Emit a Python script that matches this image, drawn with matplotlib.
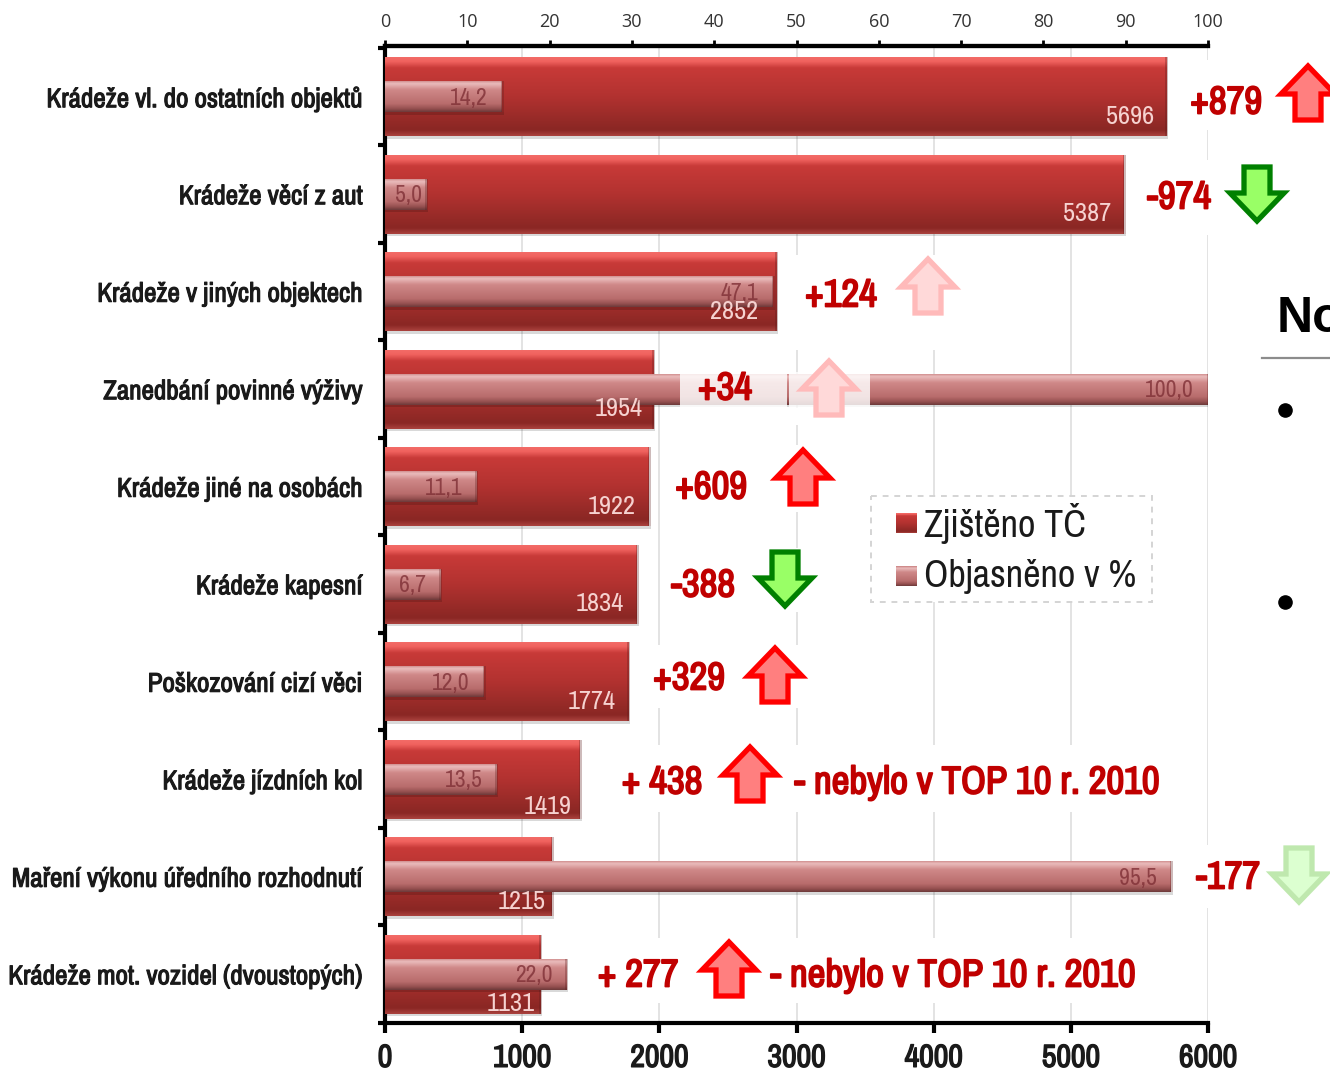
import numpy as np
import matplotlib
matplotlib.use("Agg")
import matplotlib.pyplot as plt
import matplotlib.patheffects as pe
from matplotlib.colors import LinearSegmentedColormap
from matplotlib.patches import Polygon, Rectangle

narrow = ["Archivo Narrow", "PT Sans Narrow", "Liberation Sans Narrow", "Liberation Sans", "DejaVu Sans"]
plt.rcParams["font.family"] = narrow

categories = [
    "Krádeže vl. do ostatních objektů",
    "Krádeže věcí z aut",
    "Krádeže v jiných objektech",
    "Zanedbání povinné výživy",
    "Krádeže jiné na osobách",
    "Krádeže kapesní",
    "Poškozování cizí věci",
    "Krádeže jízdních kol",
    "Maření výkonu úředního rozhodnutí",
    "Krádeže mot. vozidel (dvoustopých)",
]
zjisteno = [5696, 5387, 2852, 1954, 1922, 1834, 1774, 1419, 1215, 1131]
objasneno = [14.2, 5.0, 47.1, 100.0, 11.1, 6.7, 12.0, 13.5, 95.5, 22.0]
objasneno_labels = ["14,2", "5,0", "47,1", "100,0", "11,1", "6,7", "12,0", "13,5", "95,5", "22,0"]
bottom_ticks = [0, 1000, 2000, 3000, 4000, 5000, 6000]
top_ticks = [0, 10, 20, 30, 40, 50, 60, 70, 80, 90, 100]
series_names = ["Zjištěno TČ", "Objasněno v %"]

# change against last year: text, text x, text y, arrow x, arrow top y, kind
changes = [
    ("+879", 1226, 103, 1308, 66, "up"),
    ("-974", 1179, 198, 1257, 167, "down"),
    ("+124", 841, 296, 928, 259, "up_pale"),
    ("+34", 725, 389, 829, 361, "up_pale"),
    ("+609", 711, 488, 803, 450, "up"),
    ("-388", 703, 586, 785, 552, "down"),
    ("+329", 689, 679, 775, 648, "up"),
    ("+ 438", 662, 783, 750, 747, "up"),
    ("-177", 1228, 878, 1299, 848, "down_pale"),
    ("+ 277", 638, 976, 729, 942, "up"),
]
notes = [("- nebylo v TOP 10 r. 2010", 977, 783), ("- nebylo v TOP 10 r. 2010", 953, 976)]

arrow_colors = {
    "up": ("#ff0000", "#ff7f7f"),
    "down": ("#008000", "#99ff66"),
    "up_pale": ("#ffbaba", "#ffd9d9"),
    "down_pale": ("#bfe8ae", "#dcffd0"),
}
# white boxes the slide puts behind its labels (x0, y0, x1, y1, alpha)
boxes = [
    (1176, 60, 1330, 130, 1), (1138, 160, 1300, 235, 1),
    (795, 255, 965, 350, 1), (680, 372, 787, 408, .82), (789, 372, 870, 408, .82),
    (789, 408, 870, 425, 1), (665, 445, 840, 512, 1), (660, 548, 822, 612, 1),
    (645, 645, 812, 708, 1), (615, 745, 1165, 812, 1),
    (1190, 845, 1330, 908, 1), (590, 938, 1140, 1003, 1),
]
# hand nudges of the count labels, row: (dx, dy) in pixels
label_nudge = {2: (-6, 0), 3: (2, 0), 7: (5, 8), 8: (6, 5), 9: (7, 10)}

red_map = LinearSegmentedColormap.from_list("red", [
    (0, "#f26a66"), (.05, "#f0625e"), (.13, "#c83a38"), (.5, "#b23230"), (.93, "#8a2724"), (1, "#a8403c")])
pink_map = LinearSegmentedColormap.from_list("pink", [
    (0, "#c98080"), (.1, "#eabcbc"), (.3, "#cf8888"), (.75, "#b86c6c"), (.9, "#965050"), (1, "#6e3a3a")])
grad = np.linspace(0, 1, 64).reshape(-1, 1)


def bold(lw, color):
    # the narrow font has only one weight here, so thicken it
    return [pe.withStroke(linewidth=lw, foreground=color)]


def gradient_bars(ax, bars, cmap, z, px):
    for b in bars:
        x0, y0, w, h = b.get_x(), b.get_y(), b.get_width(), b.get_height()
        im = ax.imshow(grad, cmap=cmap, vmin=0, vmax=1, aspect="auto", zorder=z,
                       extent=(x0, x0 + w, y0 + h, y0), interpolation="bilinear")
        im.set_clip_path(b)
        # soft shadow under and right of the bar
        ax.add_patch(Rectangle((x0, y0 + h), w + 2 * px, .025, color="#000000", alpha=.15, lw=0, zorder=z - .1))
        ax.add_patch(Rectangle((x0 + w - px, y0), 3 * px, h, color="#5a1c1c", alpha=.3, lw=0, zorder=z + .1))


W, H = 1330, 1071
fig = plt.figure(figsize=(W / 100, H / 100), dpi=100, facecolor="white")
ax = fig.add_axes([385 / W, 1 - 1023 / H, 823 / W, 977 / H])
y = np.arange(len(categories))

red_bars = ax.barh(y, zjisteno, height=.81, color="#b83230", zorder=2)
gradient_bars(ax, red_bars, red_map, 3, 6000 / 823)
ax.set_xlim(0, 6000)
ax.set_ylim(9.5, -.52)
ax.set_xticks(bottom_ticks)
ax.set_xticklabels(bottom_ticks, fontsize=23, color="#1a1a1a", path_effects=bold(1.0, "#1a1a1a"))
ax.set_yticks(np.arange(-.5, 10), labels=[])
ax.set_yticks(y, labels=categories, minor=True, fontsize=19.5, color="#1a1a1a", path_effects=bold(.8, "#1a1a1a"))
ax.tick_params(axis="y", which="minor", length=0, pad=16)
ax.tick_params(axis="y", which="major", length=5, width=3, color="black")
ax.tick_params(axis="x", length=7, width=3, color="black", pad=8)
ax.grid(axis="x", color="#dedede", lw=1.2, zorder=0)
ax.set_axisbelow(True)
for side in ["top", "bottom", "left"]:
    ax.spines[side].set_linewidth(3)
ax.spines["right"].set_visible(False)

ax2 = ax.twiny()
pink_bars = ax2.barh(y, objasneno, height=.32, color="#d08a8a", zorder=2)
gradient_bars(ax2, pink_bars, pink_map, 3, 100 / 823)
ax2.set_xlim(0, 100)
ax2.set_ylim(9.5, -.52)
ax2.set_xticks(top_ticks)
ax2.set_xticklabels(top_ticks, fontsize=13, color="#333333", family=["Open Sans", "DejaVu Sans"])
ax2.tick_params(axis="x", length=4, width=2, color="black", pad=7)
for s in ax2.spines.values():
    s.set_visible(False)
ax2.spines["top"].set_visible(True)
ax2.spines["top"].set_linewidth(3)

for i, v in enumerate(objasneno):
    off = -3 if v < 6 else -10
    ax2.annotate(objasneno_labels[i], (v, i), xytext=(off, -1), textcoords="offset points",
                 ha="right", va="center", fontsize=17, color="#7f3036", alpha=.8, zorder=6)
for i, v in enumerate(zjisteno):
    dx, dy = label_nudge.get(i, (0, 0))
    ax2.annotate(str(v), (v * 100 / 6000, i), xytext=(-9 + dx * .72, -14 - dy * .72), textcoords="offset points",
                 ha="right", va="center", fontsize=19, color="#f6d2d0", zorder=7)

# slide shapes and labels, placed in picture pixels
over = fig.add_axes([0, 0, 1, 1], facecolor="none")
over.set_zorder(5)

for x0, y0, x1, y1, a in boxes:
    over.add_patch(Rectangle((x0, y0), x1 - x0, y1 - y0, color="white", alpha=a, lw=0, zorder=1))

for text, tx, ty, ax_x, ax_y, kind in changes:
    over.text(tx, ty, text, ha="center", va="center", fontsize=28, color="#c00000", zorder=4,
              path_effects=bold(1.3, "#c00000"))
    edge, fill = arrow_colors[kind]
    head, half, shaft = 28, 27, 13
    pts = [(0, 0), (half, head), (shaft, head), (shaft, 54), (-shaft, 54), (-shaft, head), (-half, head)]
    if kind.startswith("down"):
        pts = [(px, 54 - py) for px, py in pts]
    over.add_patch(Polygon([(ax_x + px, ax_y + py) for px, py in pts], closed=True,
                           facecolor=fill, edgecolor=edge, lw=3.8, zorder=3, joinstyle="miter"))
for text, tx, ty in notes:
    over.text(tx, ty, text, ha="center", va="center", fontsize=28, color="#c00000", zorder=4,
              path_effects=bold(1.3, "#c00000"))

# legend
over.add_patch(Rectangle((871, 496), 281, 106, facecolor="white", edgecolor="#d4d4d4", lw=1.4, ls=(0, (3, 3)), zorder=2))
for name, cmap, sy, ty in [(series_names[0], red_map, 513, 523), (series_names[1], pink_map, 566, 577)]:
    over.imshow(grad, cmap=cmap, vmin=0, vmax=1, aspect="auto", extent=(896, 917, sy + 20, sy), zorder=3)
    over.text(924, ty, name, ha="left", va="center", fontsize=27.5, color="#1a1a1a", zorder=4)

# slide text cut off at the right edge
over.text(1277, 319, "No", ha="left", va="center", fontsize=36, fontweight="bold", color="black", zorder=4,
          family=["Liberation Sans", "DejaVu Sans"])
over.plot([1262, 1330], [358, 358], color="#8c8c8c", lw=1.6, zorder=4)
over.plot([1285, 1285], [410, 602], ls="none", marker="o", ms=9.5, color="black", zorder=4)
over.set_xlim(0, W)
over.set_ylim(H, 0)
over.axis("off")

fig.savefig("out.png", dpi=100, facecolor="white")
